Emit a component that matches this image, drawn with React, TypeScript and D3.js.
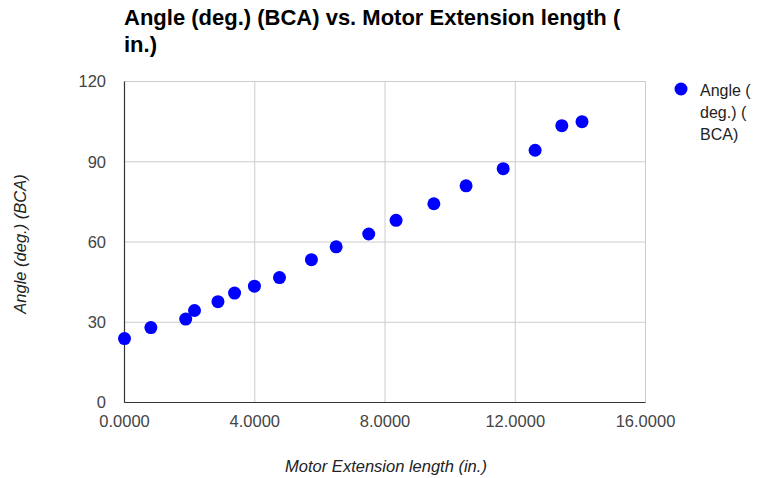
import React from "react";
import * as d3 from "d3";

const xValues = [0, 0.81, 1.88, 2.15, 2.87, 3.38, 3.99, 4.76, 5.74, 6.5, 7.5, 8.34, 9.5, 10.49, 11.63, 12.61, 13.43, 14.05];
const yValues = [23.9, 28.0, 31.2, 34.4, 37.7, 40.9, 43.5, 46.7, 53.4, 58.2, 63.0, 68.1, 74.3, 81.0, 87.4, 94.3, 103.5, 105.0];
const xTicks = [0, 4, 8, 12, 16];
const yTicks = [0, 30, 60, 90, 120];
const titleLines = ["Angle (deg.) (BCA) vs. Motor Extension length (", "in.)"];
const legendLines = ["Angle (", "deg.) (", "BCA)"];
const xTitle = "Motor Extension length (in.)";
const yTitle = "Angle (deg.) (BCA)";

const W = 763;
const H = 478;
const font = "'Liberation Sans', Arial, sans-serif";

export default function App() {
  const x = d3.scaleLinear().domain([0, 16]).range([124.5, 645.5]);
  const y = d3.scaleLinear().domain([0, 120]).range([402.5, 81.5]);
  const fmt = d3.format(".4f");
  return (
    <svg width={W} height={H} style={{ position: "absolute", left: 0, top: 0, background: "#fff" }} fontFamily={font}>
      <rect width={W} height={H} fill="#fff" />
      {titleLines.map((t, i) => (
        <text key={i} x={124} y={25 + i * 27} fontSize={22} fontWeight="bold" fill="#000">{t}</text>
      ))}
      {xTicks.map((t) => (
        <line key={"gx" + t} x1={x(t)} x2={x(t)} y1={y(120)} y2={y(0)} stroke="#cccccc" strokeWidth={1} />
      ))}
      {yTicks.map((t) => (
        <line key={"gy" + t} x1={x(0)} x2={x(16)} y1={y(t)} y2={y(t)} stroke="#cccccc" strokeWidth={1} />
      ))}
      <line x1={x(0)} x2={x(0)} y1={y(120)} y2={y(0)} stroke="#333" strokeWidth={1.2} />
      <line x1={x(0)} x2={x(16)} y1={y(0)} y2={y(0)} stroke="#333" strokeWidth={1.2} />
      {yTicks.map((t) => (
        <text key={"ty" + t} x={106} y={y(t)} dy="0.35em" textAnchor="end" fontSize={16.5} fill="#444">{t}</text>
      ))}
      {xTicks.map((t) => (
        <text key={"tx" + t} x={x(t)} y={421} dy="0.35em" textAnchor="middle" fontSize={16.5} fill="#444">{fmt(t)}</text>
      ))}
      <text x={386} y={466} dy="0.35em" textAnchor="middle" fontSize={16.5} fontStyle="italic" fill="#222">{xTitle}</text>
      <text transform={`translate(20,${244}) rotate(-90)`} dy="0.35em" textAnchor="middle" fontSize={16.5} fontStyle="italic" fill="#222">{yTitle}</text>
      {xValues.map((v, i) => (
        <circle key={i} cx={x(v)} cy={y(yValues[i])} r={6.5} fill="#0000ff" />
      ))}
      <circle cx={681} cy={89} r={6.5} fill="#0000ff" />
      {legendLines.map((t, i) => (
        <text key={"l" + i} x={700} y={90 + i * 22} dy="0.35em" fontSize={16} fill="#222">{t}</text>
      ))}
    </svg>
  );
}
